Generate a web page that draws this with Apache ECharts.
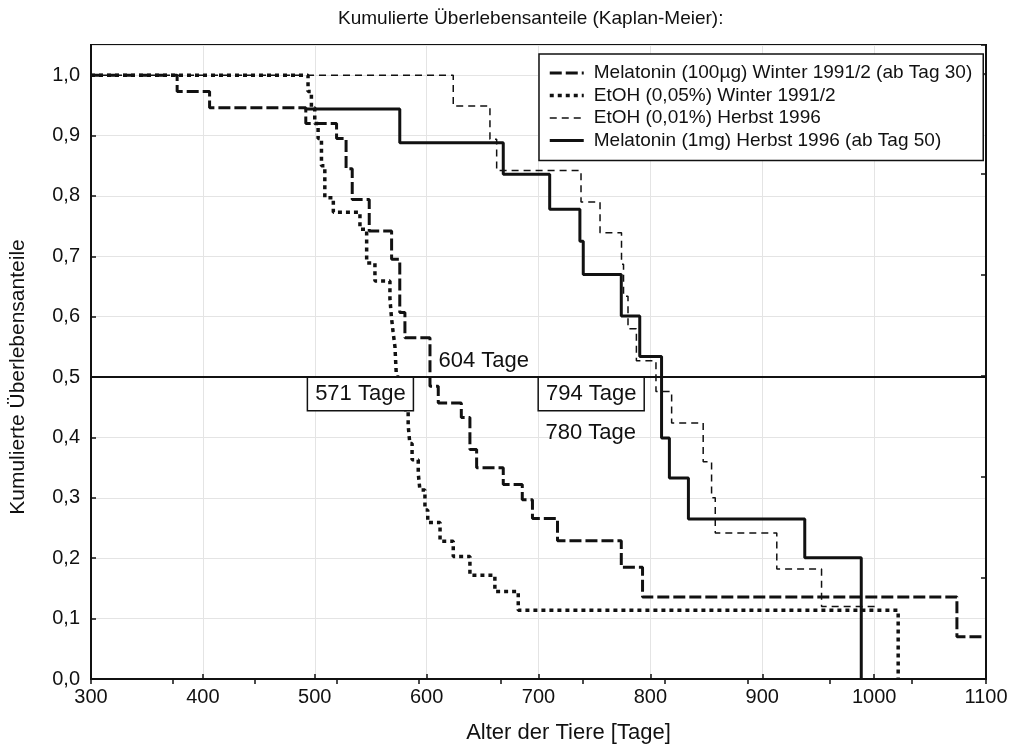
<!DOCTYPE html>
<html>
<head>
<meta charset="utf-8">
<script src="https://cdn.jsdelivr.net/npm/echarts@6/dist/echarts.min.js"></script>
<style>html,body{margin:0;padding:0;background:#fff}#chart{width:1019px;height:752px}</style>
</head>
<body>
<div id="chart"></div>
<script>
// Kaplan-Meier steps: [day, survival from that day on]
const melatonin100 = [[300,1],[377,0.973],[406,0.946],[492,0.92],[519.5,0.895],[528,0.845],[533.5,0.794],[548.7,0.742],[568.7,0.695],[576,0.607],[580.6,0.565],[603,0.485],[610.4,0.457],[631,0.433],[638.7,0.38],[644.7,0.35],[668.5,0.322],[685.5,0.297],[694.6,0.266],[717,0.229],[774,0.185],[793,0.136],[1074,0.07],[1100,0.07]];
const etoh005 = [[300,1],[494,0.973],[497,0.946],[500,0.92],[503,0.895],[506,0.85],[509,0.797],[516.6,0.773],[540.4,0.745],[546.4,0.689],[553.8,0.659],[567.2,0.63],[568.5,0.6],[570,0.575],[571.7,0.55],[573,0.5],[576,0.47],[580,0.446],[583.5,0.42],[585,0.39],[587,0.363],[592.5,0.341],[594,0.313],[598.5,0.28],[601,0.259],[612,0.228],[623.8,0.203],[638.7,0.172],[661,0.145],[681.9,0.114],[1021.5,0]];
const etoh001 = [[300,1],[623.8,0.949],[656.6,0.894],[662.6,0.842],[738,0.79],[755,0.739],[774.2,0.687],[776,0.634],[780,0.58],[787.5,0.527],[805,0.476],[819,0.424],[847.2,0.36],[854.7,0.3],[858,0.242],[913,0.182],[953,0.12],[1002,0.12]];
const melatonin1mg = [[491,0.944],[576,0.888],[668.5,0.836],[710,0.778],[737,0.725],[740,0.67],[774,0.601],[790.5,0.534],[810,0.399],[817,0.333],[834,0.265],[938,0.201],[988.5,0]];

const seriesNames = ['Melatonin (100µg) Winter 1991/2 (ab Tag 30)', 'EtOH (0,05%) Winter 1991/2', 'EtOH (0,01%) Herbst 1996', 'Melatonin (1mg) Herbst 1996 (ab Tag 50)'];
const boxedNotes = [[540.8, 0.472, '571 Tage'], [747.1, 0.472, '794 Tage']];
const plainNotes = [[651, 0.526, '604 Tage'], [746.7, 0.407, '780 Tage']];
const medianLevel = 0.5;

const FONT = "'Liberation Sans', Arial, sans-serif";
const INK = '#111';

// line width and dash per series, same order as seriesNames
const styles = [
  { width: 3, type: [12, 4] },
  { width: 3.5, type: [4, 4] },
  { width: 1.5, type: [7, 5] },
  { width: 3, type: 'solid' }
];

function kmLine(i, data, z) {
  return {
    name: seriesNames[i], type: 'line', data, step: 'end', symbol: 'none', z,
    lineStyle: { color: INK, width: styles[i].width, type: styles[i].type },
    itemStyle: { color: INK },
    silent: true
  };
}

const chart = echarts.init(document.getElementById('chart'));
const first = kmLine(0, melatonin100, 4);
first.markLine = {
  silent: true, symbol: 'none', label: { show: false },
  lineStyle: { color: INK, width: 2, type: 'solid' },
  data: [{ yAxis: medianLevel }]
};

chart.setOption({
  animation: false,
  textStyle: { fontFamily: FONT },
  title: {
    text: 'Kumulierte Überlebensanteile (Kaplan-Meier):',
    left: 333, top: 4,
    textStyle: { fontSize: 19, fontWeight: 'normal', color: INK, fontFamily: FONT }
  },
  legend: {
    data: seriesNames.map((name, i) => ({
      name,
      lineStyle: { color: INK, width: styles[i].width, type: styles[i].type }
    })),
    orient: 'vertical',
    left: 539, top: 54,
    padding: [9, 11, 10, 9],
    itemGap: 2.5,
    itemWidth: 34, itemHeight: 14,
    borderColor: INK, borderWidth: 1.5,
    backgroundColor: '#fff',
    itemStyle: { opacity: 0 },
    textStyle: { fontSize: 19, lineHeight: 20, color: INK, fontFamily: FONT, padding: [0, 0, 0, 5] }
  },
  grid: { left: 91, right: 33, top: 45, bottom: 73, show: true, borderColor: INK, borderWidth: 2, backgroundColor: '#fff' },
  xAxis: [
    {
      type: 'value', min: 300, max: 1100, interval: 100,
      name: 'Alter der Tiere [Tage]', nameLocation: 'middle', nameGap: 43,
      nameTextStyle: { fontSize: 22, color: INK, fontFamily: FONT, padding: [0, 0, 0, 60] },
      axisLine: { show: true, lineStyle: { color: INK, width: 2 } },
      axisTick: { show: true, inside: true, length: 5, lineStyle: { color: INK, width: 1.5 } },
      axisLabel: { fontSize: 20, color: INK, margin: 8, fontFamily: FONT, formatter: v => String(v) },
      splitLine: { show: true, lineStyle: { color: '#e4e4e4', width: 1 } }
    },
    {
      type: 'value', position: 'top', min: 0, max: 10.91, interval: 1,
      axisLine: { show: true, lineStyle: { color: INK, width: 2 } },
      axisTick: { show: true, inside: true, length: 5, lineStyle: { color: INK, width: 1.5 } },
      axisLabel: { show: false }, splitLine: { show: false }
    }
  ],
  yAxis: [
    {
      type: 'value', min: 0, max: 1.05, interval: 0.1,
      name: 'Kumulierte Überlebensanteile', nameLocation: 'middle', nameGap: 62,
      nameTextStyle: { fontSize: 21, color: INK, fontFamily: FONT, padding: [0, 30, 0, 0] },
      axisLine: { show: true, lineStyle: { color: INK, width: 2 } },
      axisTick: { show: true, inside: true, length: 5, lineStyle: { color: INK, width: 1.5 } },
      axisLabel: {
        fontSize: 20, color: INK, margin: 11, fontFamily: FONT, showMaxLabel: false,
        formatter: v => v > 1.001 ? '' : v.toFixed(1).replace('.', ',')
      },
      splitLine: { show: true, lineStyle: { color: '#e4e4e4', width: 1 } }
    },
    {
      type: 'value', position: 'right', min: 0, max: 6.28, interval: 1,
      axisLine: { show: true, lineStyle: { color: INK, width: 2 } },
      axisTick: { show: true, inside: true, length: 5, lineStyle: { color: INK, width: 1.5 } },
      axisLabel: { show: false }, splitLine: { show: false }
    }
  ],
  series: [
    first,
    kmLine(1, etoh005, 3),
    kmLine(2, etoh001, 2),
    kmLine(3, melatonin1mg, 5),
    {
      type: 'scatter', symbolSize: 0, data: boxedNotes, z: 20, silent: true,
      itemStyle: { opacity: 1 },
      label: {
        show: true, position: 'inside', formatter: p => p.value[2],
        fontSize: 22, color: INK, fontFamily: FONT, opacity: 1,
        backgroundColor: '#fff', borderColor: INK, borderWidth: 1.5, padding: [5, 7]
      }
    },
    {
      type: 'scatter', symbolSize: 0, data: plainNotes, z: 20, silent: true,
      itemStyle: { opacity: 1 },
      label: {
        show: true, position: 'inside', formatter: p => p.value[2],
        fontSize: 22, color: INK, fontFamily: FONT, opacity: 1
      }
    }
  ]
});
</script>
</body>
</html>
